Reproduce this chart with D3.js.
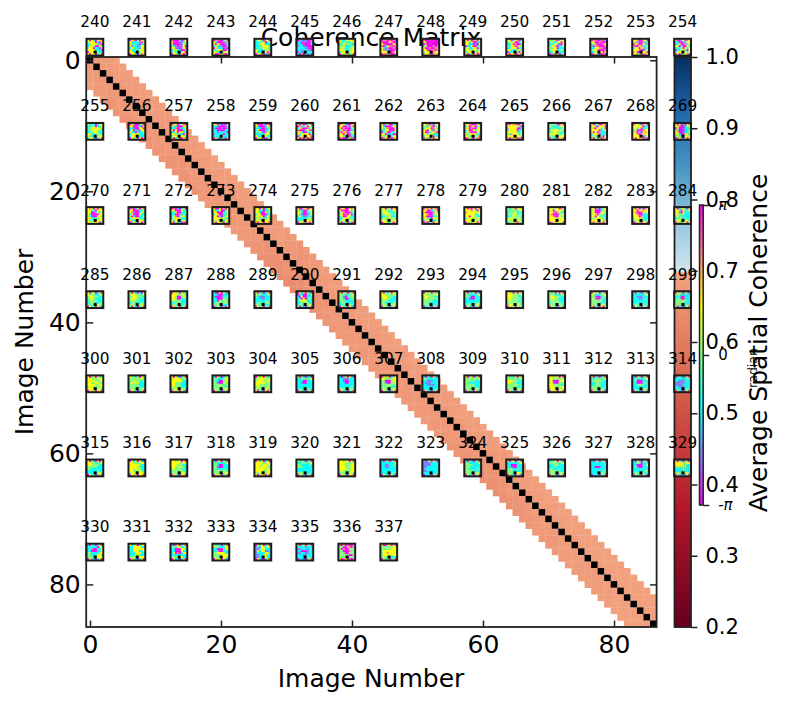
<!DOCTYPE html>
<html><head><meta charset="utf-8">
<script src="https://cdn.jsdelivr.net/npm/d3@7"></script>
<style>html,body{margin:0;padding:0;background:#fff}svg{display:block}text{font-family:"DejaVu Sans";fill:#000}</style>
</head><body><svg id="c" width="786" height="706"></svg>
<script>
// coherence (hundredths) by distance from the diagonal, indexed by column
const upper1=[68,68,67,68,67,67,68,67,68,67, 67,68,68,67,67,68,68,67,68,68, 68,67,68,68,67,68,67,67,68,67, 67,66,66,67,67,67,67,68,68,67, 67,68,68,67,68,68,68,67,68,68, 68,67,68,68,68,67,67,68,68,68, 67,67,67,67,68,68,67,68,68,68, 68,68,69,68,68,69,69,68,69,69, 69,69,69,69,69,69];
const upper2=[68,68,68,67,68,68,67,68,67,68, 68,67,68,68,68,67,68,68,68,68, 67,68,68,68,68,67,68,68,67,67, 66,67,67,67,67,68,68,68,67,68, 68,68,67,68,68,68,68,68,68,68, 68,68,68,68,68,68,68,68,68,68, 67,67,68,68,68,68,68,68,68,69, 68,69,69,69,68,69,69,69,69,69, 69,69,69,69,69];
const upper3=[68,68,68,68,67,68,68,68,68,67, 68,68,68,67,68,68,68,68,68,68, 68,68,67,68,68,68,68,67,67,66, 66,67,68,67,68,68,68,67,68,68, 68,68,68,68,68,68,69,68,68,68, 69,68,68,68,68,69,68,68,68,68, 67,68,68,68,68,68,68,69,68,69, 69,69,69,69,69,69,69,69,69,69, 69,69,69,69];
const upper4=[69,68,68,68,68,68,67,68,68,68, 68,68,68,68,68,69,68,68,68,68, 68,68,68,68,67,68,68,67,66,67, 67,67,68,68,68,68,68,68,68,68, 68,68,69,68,68,68,69,68,69,69, 68,68,68,69,68,68,69,68,68,68, 68,68,68,68,69,68,69,69,69,69, 69,69,69,69,69,69,69,69,69,69, 69,69,69];
const lower1=[68,68,67,67,67,67,68,67,67,67, 67,67,67,67,66,67,67,67,67,67, 67,67,67,67,67,67,67,66,66,66, 66,65,65,66,66,66,66,67,67,67, 67,67,67,67,67,67,67,67,67,67, 67,67,67,67,67,67,67,67,67,67, 66,66,66,66,67,67,67,67,68,68, 68,68,68,68,68,68,68,68,68,69, 69,69,69,69,69,69];
const lower2=[68,67,67,67,67,67,67,67,66,67, 67,67,67,66,66,67,67,67,67,67, 67,67,67,67,67,67,66,66,65,65, 66,65,64,65,66,66,67,67,67,67, 67,67,67,67,67,67,67,67,67,67, 67,67,67,67,67,67,67,66,66,66, 66,66,66,66,67,66,66,67,67,68, 68,67,68,68,68,68,68,68,68,68, 69,69,69,69,69];
const lower3=[68,67,67,66,67,67,66,66,66,66, 67,67,66,66,66,66,67,67,67,67, 67,67,67,67,67,66,66,65,65,65, 65,64,64,65,65,66,66,67,67,67, 67,67,67,67,67,67,67,67,67,67, 67,67,67,67,67,67,66,66,66,66, 66,65,65,66,66,66,66,66,67,67, 67,67,68,68,68,68,68,68,68,68, 69,69,69,69];
const lower4=[68,67,67,66,66,66,66,65,66,66, 66,66,66,66,66,66,66,67,67,67, 67,67,67,67,66,66,65,65,65,64, 64,64,64,64,65,65,66,66,67,67, 67,67,67,67,67,67,67,67,67,67, 67,67,67,67,67,66,66,66,66,66, 65,65,65,65,65,65,66,66,67,67, 67,67,67,68,68,68,68,68,68,68, 69,69,69];
const upperBands=[upper1,upper2,upper3,upper4];
const lowerBands=[lower1,lower2,lower3,lower4];
const imageCount=87;
const axisTicks=[0,20,40,60,80];
const coherenceTicks=[0.2,0.3,0.4,0.5,0.6,0.7,0.8,0.9,1.0];
const firstImage=240;
const perRow=15;
// wrapped phase of each thumbnail: 0 magenta 1 blue 2 cyan 3 green 4 yellow 5 orange
const thumbPhases=[
"40420445 34440204 23444250 24430042 34402203 44442220 04433322 40440240",
"04503042 42222504 42322025 41221244 24322143 42232443 44222344 04420354",
"50002054 40001124 30000142 32101140 44110145 23422005 24222340 04420405",
"05500240 42000152 40450012 24211002 04222010 32443002 44222344 40034505",
"24420340 22334024 22344222 22344442 22324432 43223342 42222403 04450250",
"01202005 12011002 22100002 12211000 22221100 22122110 02122222 20502120",
"42234443 42332244 23433322 33422234 34322334 44332344 24433344 04344240",
"05505050 50004500 45000045 50245505 42150050 45120005 44450054 05555005",
"50000000 45000000 05000000 24000505 40050055 44005505 24440544 54450545",
"40405404 44240022 44220104 02240024 34224402 44334424 24443354 40240405",
"44024502 24340024 22405002 32440542 22444022 44222442 02244204 40440540",
"42450244 24224404 22342004 24450224 42440222 24442242 22440222 05204024",
"05500502 44005000 24500054 20550005 22445500 24450005 22444404 05420050",
"44500440 45200522 04500425 50045224 24404522 44450024 54004440 44240554",
"40024054 22001244 22400524 44020042 22240424 02244204 24444424 04024450",
"42220244 22330224 33444442 23344332 22344322 44223332 42233344 24420240",
"04500240 44001204 22100440 24021144 42202224 24444222 24442222 04240405",
"04402450 42200044 22501224 40400024 22404422 44242204 24444442 40240045",
"44020104 22100012 20001002 22000022 22122220 12222022 22244222 04202204",
"40002050 42000242 22200124 24000124 32420142 22222442 42244422 04420024",
"40500240 05224042 24500524 50002450 44200224 42444402 02444440 40504050",
"04420054 44002040 40500024 24050022 50450244 44040024 44244022 05002405",
"40240025 42000144 42450004 22440004 02400224 44022200 42440244 05405054",
"44502044 42245024 24440542 45042042 40024450 44244222 24444022 04254044",
"44500045 24054024 44050044 24004244 24500042 42444422 44244240 05420450",
"50455004 44444420 54444002 24444022 44444224 42544424 44443442 40544050",
"24240040 42222344 23332224 33444342 23443322 44443324 42244344 04220440",
"40240045 44204440 45044240 44440224 40405222 24440222 24244204 40424054",
"04420540 44444022 44240224 24000544 45020454 44505444 44445024 40444050",
"40402045 44500244 04001222 42000224 44001224 44200442 24242444 05420404",
"45404045 44230444 44002424 42000044 42100442 44223244 42333444 44344402",
"05024045 44000224 45100242 24000422 40200224 24444222 42244442 05420404",
"05020240 44000422 22400224 22005222 24502442 24443222 42442342 40422050",
"40040404 42240024 44000234 24400224 44020244 44443422 34333244 40444042",
"44040244 44220224 44200424 24400022 44340242 24333242 44334442 40440440",
"40044054 42200244 44200224 42100134 24211222 22222342 22334442 04430404",
"04400454 40000424 24500024 44050402 24004422 22444222 24433442 40240250",
"44034045 34332244 34433224 33443323 22334222 24334342 44333344 04432404",
"04540450 44002240 40000542 44500244 45000224 44220444 24442224 05024044",
"40504045 44454204 54444444 44444224 44044322 24443344 44433342 04344404",
"42340443 32333244 23334222 33344233 22343332 34433342 43344342 23434042",
"44344054 34034442 44505422 45000244 44500432 44443444 44444344 05434440",
"44020244 34000233 44000443 34403422 44043232 33344422 44443433 40430404",
"40402054 44044544 45000434 44500222 44405222 34444222 24344223 05430440",
"40244204 44304234 44104222 34333222 34232222 23332322 34433342 04324404",
"40340240 43332234 34433322 33432223 24333222 23332232 32333342 04230420",
"40320204 34433324 33443332 34433222 34333222 23322232 33333342 40320240",
"04340423 44433342 44300343 44300232 34333222 22333222 33333232 04240240",
"20040420 22100222 20001223 22000332 22033332 23333342 33333222 02420204",
"40320240 33322234 32111222 22211222 22222322 23322342 33333222 04230240",
"04240420 02200224 20400222 22040242 24444222 22333322 23333342 40220240",
"40340240 33322334 33102333 33200233 33322222 23322222 22333332 04230420",
"40324043 44333334 44433322 34433222 33332222 33222232 33333342 04320240",
"04340423 43333344 34433322 34333333 33333222 33322222 33333222 02320240",
"40324020 33222234 33200222 22100222 22222222 22222232 23333342 04220240",
"44304043 44433324 44433322 44333332 34333322 33333332 34433342 04340423",
"42304040 33322234 34433322 34433222 33333222 23333322 33333332 04320240",
"04340240 43222334 33100233 34100322 33333322 33333222 33333342 40320404",
"20320240 22222234 22111222 22211222 22222232 22222222 23333322 04220240",
"04320420 33322222 22200222 23300222 33333322 33333222 33333232 40220240",
"40340423 44333344 44443334 44334433 44443344 34433334 44433342 04340440",
"43324043 33333342 33433323 34344222 33333222 33333222 33333334 04320240",
"40420240 34444234 44444422 44333222 44333222 34333222 33433342 04340420",
"20420234 33222344 32200334 33100342 33333333 33333322 33333344 04320240",
"04340423 33444334 34443344 44444333 44333333 34333333 33333342 40320404",
"40320220 22333244 22200222 22100222 22222222 22222222 22333322 04220240",
"20240420 22111222 22100222 22200222 22222222 22222232 33333332 04220240",
"04340234 44333344 33000344 33100334 33333333 33333222 33333344 04320240",
"20320420 33222222 22111222 21112222 22111122 22222222 22222222 04220240",
"40340240 33333334 33333222 33222222 33333222 33333222 33333342 04230420",
"42324043 33333234 44433322 44333222 33333332 33333222 33333342 04320240",
"44344040 44333334 34000344 44100333 44333322 44433344 34444334 04340440",
"40320240 22333234 33433322 22333222 22333222 33333222 33333332 04320420",
"20340240 23222234 23000222 22000232 22333322 22222222 22233332 04220240",
"02320240 22222232 22111222 11111222 11112222 22111222 22222232 04210240",
"40320404 44333234 44333322 33333222 33222222 22222322 22233342 04230240",
"04240420 44333344 44444322 44443322 44344322 44333432 34433442 04340440",
"44344040 44443344 44433322 44334332 34333322 33333332 33333342 04320440",
"20340420 33222234 33200222 33100222 33222322 33333332 33333344 04340240",
"04240240 44443344 44434434 44344433 44444343 44443344 33443344 40344040",
"42320240 22333234 33222232 33322222 22222222 22222222 33333222 04320240",
"44344040 44433334 44433344 44433344 44443344 34333344 33333342 04320440",
"20240240 22222224 22112232 22112222 22222222 22222222 22222232 04220420",
"20240420 11112222 11112222 11222222 12222222 11222222 22222222 02210240",
"20320240 33222224 33332222 33322222 33222232 33333222 33333342 04230240",
"40340240 22222234 22000222 22100222 33322322 33322222 33333442 04220420",
"22340420 33333234 22333222 22322222 33222322 33333222 33333342 04320240",
"20240240 22222222 22222222 22000222 22222222 22222232 22222332 02220240",
"20420240 22330222 22000224 23100222 22222222 22222242 23333322 04220420",
"40320420 44443344 44443322 33333322 22223222 22223222 33333342 04220240",
"20320240 22222034 22500224 22000224 33222244 33222442 33333444 04220240",
"42340244 22444422 22444444 22444224 22244422 22244222 33344444 04320240",
"20540240 33244224 22000442 22000422 24050244 22222222 33334422 04220240",
"42320240 33322244 22000244 22500222 33444422 33334444 33333442 04340420",
"04240240 12144242 11244222 14244112 12222442 11224422 11224422 04210240",
"40240240 22221222 11222122 22000122 11221122 22211222 22222322 02210240",
"50405005 33005503 30500333 33000533 33300333 33333003 33330333 40540505",
"40044040 33333344 33333444 34444444 34454444 34444344 33333222 04230240"
];
const phaseTicks=[-Math.PI,0,Math.PI];

const svg=d3.select("#c");
const ax={l:86.7,r:656.6,t:57,b:627};
const x=d3.scaleLinear().domain([-0.5,imageCount-0.5]).range([ax.l,ax.r]);
const y=d3.scaleLinear().domain([-0.5,imageCount-0.5]).range([ax.t,ax.b]);
const lowStops=["#67001f","#b2182b","#d6604d","#f4a582"];
const highStops=["#d1e5f0","#92c5de","#4393c3","#2166ac","#053061"];
const lowScale=d3.scaleLinear().domain(d3.range(4).map(i=>0.2+i*0.5/3)).range(lowStops).clamp(true);
const highScale=d3.scaleLinear().domain(d3.range(5).map(i=>0.7+i*0.3/4)).range(highStops).clamp(true);
const coh=v=>v<0.7?lowScale(v):highScale(v);

// matrix
const cells=[];
upperBands.forEach((arr,k)=>arr.forEach((v,i)=>cells.push({col:i+k+1,row:i,v:v/100})));
lowerBands.forEach((arr,k)=>arr.forEach((v,i)=>cells.push({col:i,row:i+k+1,v:v/100})));
const gMain=svg.append("g");
const w=x(1)-x(0),h=y(1)-y(0);
gMain.selectAll("rect.c").data(cells).join("rect").attr("x",d=>x(d.col-0.5)).attr("y",d=>y(d.row-0.5))
  .attr("width",w+0.3).attr("height",h+0.3).attr("fill",d=>coh(d.v));
gMain.selectAll("rect.d").data(d3.range(imageCount)).join("rect").attr("x",d=>x(d-0.5)).attr("y",d=>y(d-0.5))
  .attr("width",w).attr("height",h).attr("fill","#000");

// axes
function styleAxis(g,size){g.select(".domain").remove();g.selectAll("line").attr("stroke","#222").attr("stroke-width",1.5);
  g.selectAll("text").attr("font-size",size||21).attr("fill","#000").attr("font-family","DejaVu Sans");}
svg.append("g").attr("transform",`translate(0,${ax.b})`).call(d3.axisBottom(x).tickValues(axisTicks).tickSize(-6.5).tickPadding(8)).call(styleAxis,25);
svg.append("g").attr("transform",`translate(${ax.l},0)`).call(d3.axisLeft(y).tickValues(axisTicks).tickSize(-6.5).tickPadding(6)).call(styleAxis,25);
svg.append("g").attr("transform",`translate(0,${ax.t})`).call(d3.axisTop(x).tickValues(axisTicks).tickSize(-6.5).tickFormat("")).call(styleAxis);
svg.append("g").attr("transform",`translate(${ax.r},0)`).call(d3.axisRight(y).tickValues(axisTicks).tickSize(-6.5).tickFormat("")).call(styleAxis);
svg.append("rect").attr("x",ax.l-0.5).attr("y",ax.t).attr("width",ax.r-ax.l+0.5).attr("height",ax.b-ax.t).attr("fill","none").attr("stroke","#222").attr("stroke-width",1.8);

svg.append("text").attr("x",371).attr("y",46).attr("text-anchor","middle").attr("font-size",25).text("Coherence Matrix");
svg.append("text").attr("x",371).attr("y",687).attr("text-anchor","middle").attr("font-size",25).text("Image Number");
svg.append("text").attr("transform","translate(33,342) rotate(-90)").attr("text-anchor","middle").attr("font-size",25).text("Image Number");

// main colorbar
const cb={l:674.5,r:691,t:57,b:627};
const cbY=d3.scaleLinear().domain([0.2,1]).range([cb.b,cb.t]);
const cbVals=d3.range(0,300).map(i=>0.2+(i+0.5)*0.8/300);
svg.append("g").selectAll("rect").data(cbVals).join("rect").attr("x",cb.l).attr("width",cb.r-cb.l)
  .attr("y",d=>cbY(d)-1.4).attr("height",2.9).attr("fill",coh);
svg.append("rect").attr("x",cb.l).attr("y",cb.t).attr("width",cb.r-cb.l).attr("height",cb.b-cb.t).attr("fill","none").attr("stroke","#222").attr("stroke-width",1.8);
svg.append("g").attr("transform",`translate(${cb.r},0)`).call(d3.axisRight(cbY).tickValues(coherenceTicks).tickSize(6.5).tickPadding(8).tickFormat(d3.format(".1f"))).call(styleAxis);
svg.append("text").attr("transform","translate(767,343) rotate(-90)").attr("text-anchor","middle").attr("font-size",25).text("Average Spatial Coherence");

// thumbnails
const phaseColor=d3.scaleLinear().domain([0,1,2,3,4,5,6]).range(["#ff00ff","#8080ff","#00ffff","#80ff80","#ffff00","#ff8080","#ff00ff"]);
const tw=18.8,sx=41.98,sy=84.15,x0=85.5,y0=37.8;
const cellScale=d3.scaleBand().domain(d3.range(8)).range([1.5,tw-1.5]);
const thumbs=svg.append("g").selectAll("g").data(thumbPhases).join("g")
  .attr("transform",(d,i)=>`translate(${x0+sx*(i%perRow)},${y0+sy*Math.floor(i/perRow)})`);
thumbs.each(function(s){
  const rows=s.split(" ");
  const px=[];rows.forEach((r,ri)=>r.split("").forEach((c,ci)=>px.push({ri,ci,c:+c})));
  d3.select(this).selectAll("rect.p").data(px).join("rect").attr("x",d=>cellScale(d.ci)).attr("y",d=>cellScale(d.ri))
    .attr("width",cellScale.bandwidth()+0.2).attr("height",cellScale.bandwidth()+0.2).attr("fill",d=>phaseColor(d.c));
});
thumbs.append("rect").attr("x",8.2).attr("y",12.8).attr("width",3).attr("height",3).attr("fill","#000");
thumbs.append("rect").attr("x",1).attr("y",1).attr("width",tw-2).attr("height",tw-2).attr("fill","none").attr("stroke","#1c1c1c").attr("stroke-width",2);
thumbs.append("text").attr("x",tw/2).attr("y",-10.5).attr("text-anchor","middle").attr("font-size",15.3).text((d,i)=>firstImage+i);

// phase colorbar
const pc={l:699.5,r:703.2,t:205,b:505};
const pY=d3.scaleLinear().domain([-Math.PI,Math.PI]).range([pc.b,pc.t]);
const pVals=d3.range(0,150).map(i=>-Math.PI+(i+0.5)*2*Math.PI/150);
svg.append("g").selectAll("rect").data(pVals).join("rect").attr("x",pc.l).attr("width",pc.r-pc.l)
  .attr("y",d=>pY(d)-1.1).attr("height",2.3).attr("fill",d=>phaseColor((d+Math.PI)/(2*Math.PI)*6));
svg.append("rect").attr("x",pc.l).attr("y",pc.t).attr("width",pc.r-pc.l).attr("height",pc.b-pc.t).attr("fill","none").attr("stroke","#222").attr("stroke-width",1.5);
const pAxis=svg.append("g").attr("transform",`translate(${pc.r},0)`).call(d3.axisRight(pY).tickValues(phaseTicks).tickSize(6).tickPadding(9).tickFormat(d=>d<0?"-π":(d>0?"π":"0"))).call(styleAxis);
pAxis.selectAll("text").attr("font-size",15).attr("font-style",d=>d===0?"normal":"italic");
svg.append("text").attr("transform","translate(757,368) rotate(-90)").attr("text-anchor","middle").attr("font-size",12.5).text("radian");
</script></body></html>
